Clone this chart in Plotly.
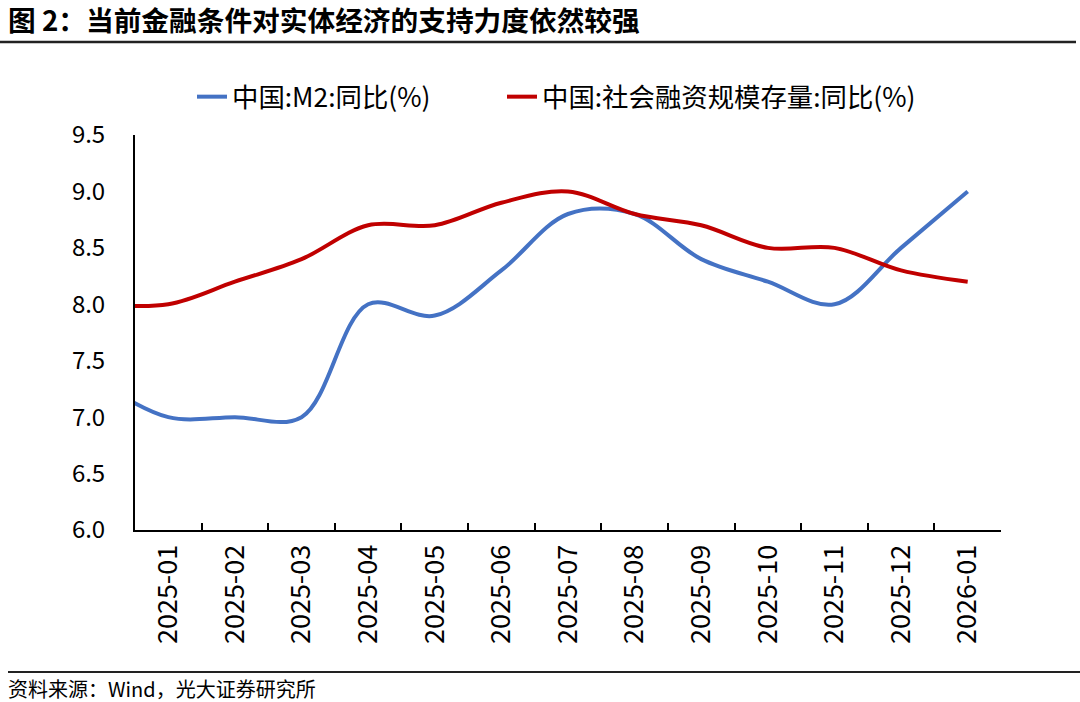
import plotly.graph_objects as go

months = ["2024-12", "2025-01", "2025-02", "2025-03", "2025-04", "2025-05", "2025-06",
          "2025-07", "2025-08", "2025-09", "2025-10", "2025-11", "2025-12", "2026-01"]
m2_yoy = [7.3, 7.0, 7.0, 7.0, 8.0, 7.9, 8.3, 8.8, 8.8, 8.4, 8.2, 8.0, 8.5, 9.0]
tsf_yoy = [8.0, 8.0, 8.2, 8.4, 8.7, 8.7, 8.9, 9.0, 8.8, 8.7, 8.5, 8.5, 8.3, 8.2]

name_m2 = "中国:M2:同比(%)"
name_tsf = "中国:社会融资规模存量:同比(%)"
title_text = "图 2：当前金融条件对实体经济的支持力度依然较强"
source_text = "资料来源：Wind，光大证券研究所"

FONT = "Noto Sans CJK SC"
W, H = 1080, 702
L, R, T, B = 135, 79, 135, 172
PW, PH = W - L - R, H - T - B

def px_x(p):
    return (p - L) / PW

def px_y(p):
    return (H - B - p) / PH

fig = go.Figure()
fig.add_trace(go.Scatter(x=months, y=m2_yoy, name=name_m2, mode="lines", legend="legend",
                         line=dict(color="#4472C4", width=4, shape="spline", smoothing=1.0)))
fig.add_trace(go.Scatter(x=months, y=tsf_yoy, name=name_tsf, mode="lines", legend="legend2",
                         line=dict(color="#C00000", width=4, shape="spline", smoothing=1.0)))

leg_common = dict(orientation="h", xanchor="left", yanchor="middle", y=px_y(97),
                  font=dict(size=26.4, family=FONT, color="black"), bgcolor="rgba(0,0,0,0)")

fig.update_layout(
    width=W, height=H,
    margin=dict(l=L, r=R, t=T, b=B),
    paper_bgcolor="white", plot_bgcolor="white",
    font=dict(family=FONT, color="black"),
    showlegend=True,
    legend=dict(x=px_x(192), **leg_common),
    legend2=dict(x=px_x(502), **leg_common),
    title=dict(text="<b>" + title_text + "</b>", xref="container", yref="container",
               x=8 / W, xanchor="left", y=1 - 21 / H, yanchor="middle",
               font=dict(size=27.7, family=FONT, color="black")),
)

fig.update_xaxes(type="category", range=[0.5, len(months) - 0.5], tickson="boundaries",
                 ticks="inside", ticklen=7, tickwidth=2, tickcolor="black",
                 showline=True, linecolor="black", linewidth=2, showgrid=False,
                 tickangle=-90, tickfont=dict(size=27, family=FONT, color="black"),
                 ticklabelstandoff=2, zeroline=False)
fig.update_yaxes(range=[6.0, 9.5], dtick=0.5, tickformat=".1f", ticks="",
                 showline=True, linecolor="black", linewidth=2, showgrid=False,
                 zeroline=False, tickfont=dict(size=24, family=FONT, color="black"),
                 ticklabelstandoff=23)

# title underline and footer line
fig.add_shape(type="line", xref="paper", yref="paper", x0=px_x(0), x1=px_x(1076),
              y0=px_y(42), y1=px_y(42), line=dict(color="#222222", width=2.5))
fig.add_shape(type="line", xref="paper", yref="paper", x0=px_x(8), x1=px_x(1080),
              y0=px_y(672), y1=px_y(672), line=dict(color="#222222", width=2))
fig.add_annotation(text=source_text, xref="paper", yref="paper", x=px_x(6), y=px_y(688),
                   xanchor="left", yanchor="middle", showarrow=False,
                   font=dict(size=20, family=FONT, color="black"))

fig.write_html("out.html", config={"displayModeBar": False},
               post_script="document.body.style.margin='0';document.body.style.overflow='hidden';")
